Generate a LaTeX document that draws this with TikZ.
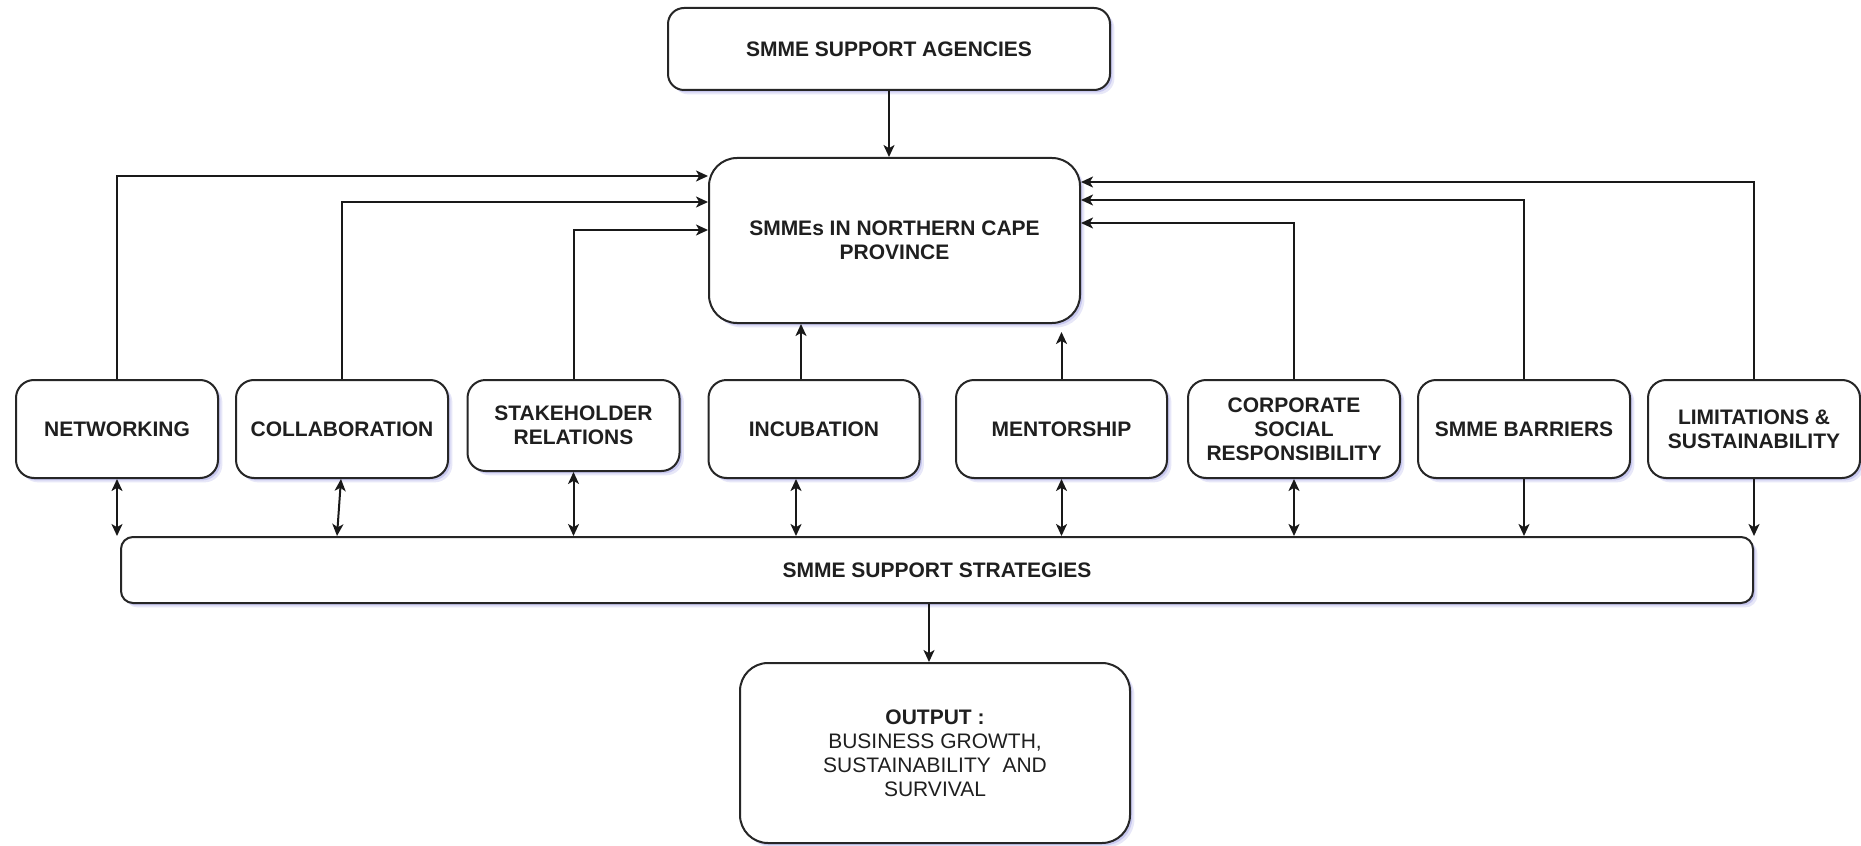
\documentclass[tikz,border=0pt]{standalone}
\usepackage{fontspec}
\setmainfont{Liberation Sans}
\usetikzlibrary{arrows.meta,shadows,calc}
\begin{document}
\begin{tikzpicture}[x=0.5pt,y=-0.5pt,
  base/.style={font=\fontsize{10.5}{12}\selectfont},
  box/.style={draw=black!85, line width=1pt, fill=white, rounded corners=#1,
    align=center, inner sep=0pt, text=black!88,
    font=\fontsize{10.5}{12}\selectfont\bfseries,
    drop shadow={shadow xshift=2.2pt, shadow yshift=-2.2pt, opacity=0.12, fill=blue!55!gray},
    drop shadow={shadow xshift=1.2pt, shadow yshift=-1.2pt, opacity=0.18, fill=blue!55!gray}},
  box/.default=9pt,
  rowbox/.style={box, minimum width=106pt, minimum height=49pt},
  tip/.tip={Stealth[length=6pt,width=5.5pt,inset=1.6pt]},
  link/.style={draw=black!90, line width=1pt, -tip},
  twoway/.style={draw=black!90, line width=1pt, tip-tip}
]
\useasboundingbox (0,0) rectangle (1861,845);

% top and central boxes
\node[box=8pt, minimum width=221pt, minimum height=41pt] (agency) at (889,49) {SMME SUPPORT AGENCIES};
\node[box=14pt, minimum width=185.5pt, minimum height=82.5pt] (smme) at (894.5,240.5) {SMMEs IN NORTHERN CAPE\\PROVINCE};

% row of support themes
\node[rowbox, minimum width=101pt] (net) at (117,429) {NETWORKING};
\node[rowbox] (col) at (342,429) {COLLABORATION};
\node[rowbox, minimum height=45.5pt] (stake) at (573.5,425.5) {STAKEHOLDER\\RELATIONS};
\node[rowbox, minimum width=105.5pt] (inc) at (814,429) {INCUBATION};
\node[rowbox, minimum width=105.5pt] (men) at (1061.5,429) {MENTORSHIP};
\node[rowbox] (csr) at (1294,429) {CORPORATE\\SOCIAL\\RESPONSIBILITY};
\node[rowbox] (bar) at (1524,429) {SMME BARRIERS};
\node[rowbox] (lim) at (1754,429) {LIMITATIONS \&\\SUSTAINABILITY};

% strategies bar and output
\node[box=6pt, minimum width=816pt, minimum height=33pt] (strat) at (937,570) {SMME SUPPORT STRATEGIES};
\node[box=14pt, minimum width=195pt, minimum height=90pt, font=\fontsize{10.5}{12}\selectfont] (out) at (935,753)
  {\textbf{OUTPUT :}\\BUSINESS GROWTH,\\SUSTAINABILITY~ AND\\SURVIVAL};

% agencies feed the SMMEs
\draw[link] (agency.south) -- (agency.south |- smme.north);

% elbow connectors into the left side of the SMME box
\draw[link] (net.north) |- ($(smme.west)+(0,-64.5)$);
\draw[link] (col.north) |- ($(smme.west)+(0,-38.5)$);
\draw[link] (stake.north) |- ($(smme.west)+(0,-10.5)$);

% elbow connectors into the right side of the SMME box
\draw[link] (lim.north) |- ($(smme.east)+(0,-58.5)$);
\draw[link] (bar.north) |- ($(smme.east)+(0,-40.5)$);
\draw[link] (csr.north) |- ($(smme.east)+(0,-17.5)$);

% straight connectors up from incubation and mentorship
\coordinate (incup) at ($(inc.north)+(-13,0)$);
\draw[link] (incup) -- (incup |- smme.south);
\coordinate (menup) at ($(men.north)+(0,-47)$);
\draw[link] (men.north) -- (menup);

% links between the themes and the strategies bar
\draw[twoway] (net.south) -- (net.south |- strat.north);
\coordinate (cola) at ($(col.south)+(-1,0)$);
\coordinate (colb) at ($(col.south |- strat.north)+(-5,0)$);
\draw[twoway] (cola) -- (colb);
\draw[twoway] (stake.south) -- (stake.south |- strat.north);
\coordinate (inca) at ($(inc.south)+(-18,0)$);
\draw[twoway] (inca) -- (inca |- strat.north);
\draw[twoway] (men.south) -- (men.south |- strat.north);
\draw[twoway] (csr.south) -- (csr.south |- strat.north);
\draw[link] (bar.south) -- (bar.south |- strat.north);
\draw[link] (lim.south) -- (lim.south |- strat.north);

% strategies lead to the output
\coordinate (sdown) at ($(strat.south)+(-8,0)$);
\draw[link] (sdown) -- (sdown |- out.north);
\end{tikzpicture}
\end{document}
